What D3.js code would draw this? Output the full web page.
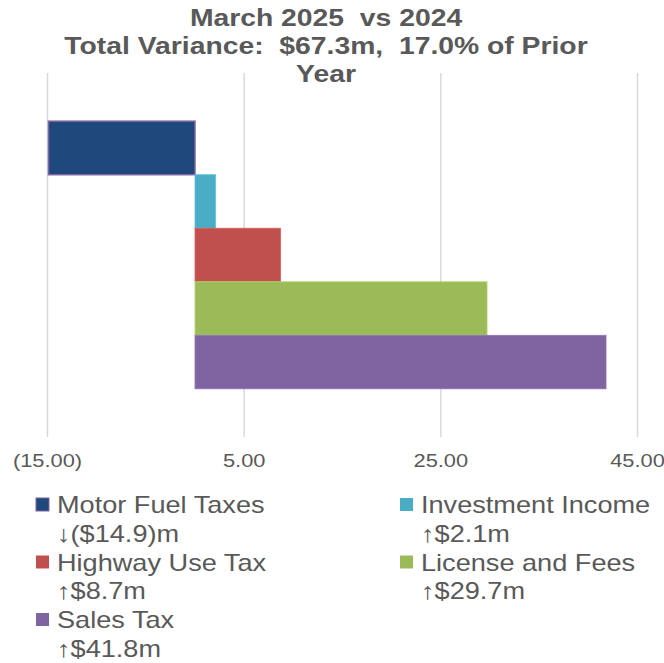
<!DOCTYPE html>
<html lang="en">
<head>
<meta charset="UTF-8">
<title>March 2025 vs 2024</title>
<script src="https://d3js.org/d3.v7.min.js"></script>
<style>
  body { margin: 0; background: #fff; }
  text { font-family: "Liberation Sans", Arial, sans-serif; fill: #595959; white-space: pre; }
</style>
</head>
<body>
<svg width="664" height="663"></svg>
<script>
// data
var series = ["Motor Fuel Taxes", "Investment Income", "Highway Use Tax", "License and Fees", "Sales Tax"];
var values = [-14.9, 2.1, 8.7, 29.7, 41.8];
var colors = ["#1F497D", "#4BACC6", "#C0504D", "#9BBB59", "#8064A2"];
var xTicks = [-15, 5, 25, 45];
var titleLines = ["March 2025  vs 2024", "Total Variance:  $67.3m,  17.0% of Prior", "Year"];

var svg = d3.select("svg"),
    plot = {left: 47.5, right: 637.5, top: 73, bottom: 437},
    sx = 1.18; // text in the original is stretched horizontally

var x = d3.scaleLinear().domain([-15, 45]).range([plot.left, plot.right]);
var y = d3.scaleBand().domain(series).range([plot.top, plot.bottom])
    .paddingInner(0).paddingOuter(0.9);

function fmt(v) {
    return v < 0 ? "(" + d3.format(".2f")(-v) + ")" : d3.format(".2f")(v);
}

function label(g, tx, ty, str, size, anchor, weight) {
    return g.append("text")
        .attr("transform", "translate(" + tx + "," + ty + ") scale(" + sx + ",1)")
        .attr("text-anchor", anchor)
        .style("font-size", size + "px")
        .style("font-weight", weight || "normal")
        .text(str);
}

// title
titleLines.forEach(function(t, i) {
    label(svg, 326, 25.5 + i * 28, t, 24, "middle", "bold");
});

// gridlines
svg.selectAll(".grid")
    .data(xTicks)
    .enter().append("line")
    .attr("class", "grid")
    .attr("x1", function(d) { return x(d); })
    .attr("x2", function(d) { return x(d); })
    .attr("y1", plot.top)
    .attr("y2", plot.bottom)
    .attr("stroke", "#D9D9D9")
    .attr("stroke-width", 1.5);

// tick labels
xTicks.forEach(function(t) {
    label(svg, x(t), 467, fmt(t), 18.5, "middle");
});

// bars
svg.selectAll(".bar")
    .data(series)
    .enter().append("rect")
    .attr("class", "bar")
    .attr("x", function(d, i) { return x(Math.min(0, values[i])); })
    .attr("width", function(d, i) { return Math.abs(x(values[i]) - x(0)); })
    .attr("y", function(d) { return y(d); })
    .attr("height", y.bandwidth())
    .attr("fill", function(d, i) { return colors[i]; })
    .attr("stroke", function(d, i) { return i === 0 ? "#8064A2" : d3.color(colors[i]).brighter(0.4); })
    .attr("stroke-width", function(d, i) { return i === 0 ? 1.5 : 0.8; });

// legend
var legend = svg.append("g");
series.forEach(function(s, i) {
    var col = i % 2, row = Math.floor(i / 2);
    var lx = col === 0 ? 36 : 400,
        base = 513 + row * 57.5;
    legend.append("rect")
        .attr("x", lx)
        .attr("y", base - 15)
        .attr("width", 13)
        .attr("height", 13)
        .attr("fill", colors[i])
        .attr("stroke", i === 0 ? "#8064A2" : "none")
        .attr("stroke-width", 1);
    var v = values[i];
    var valText = (v < 0 ? "\u2193($" + (-v).toFixed(1) + ")m" : "\u2191$" + v.toFixed(1) + "m");
    label(legend, lx + 21, base, s, 23, "start");
    label(legend, lx + 21, base + 28.7, valText, 23, "start");
});
</script>
</body>
</html>
